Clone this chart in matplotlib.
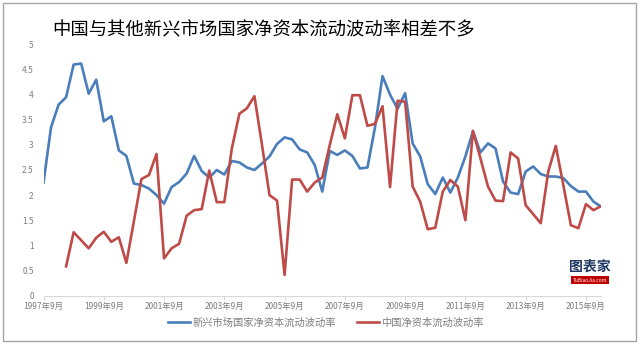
import matplotlib
matplotlib.use("Agg")
import matplotlib.pyplot as plt
from matplotlib.patches import Rectangle

plt.rcParams["font.family"] = ["Noto Sans CJK SC", "DejaVu Sans"]

# -------------------------------------------------
# data: quarterly, 1997Q3 .. 2016Q1
# -------------------------------------------------
tick_labels = ["1997年9月", "1999年9月", "2001年9月", "2003年9月", "2005年9月",
               "2007年9月", "2009年9月", "2011年9月", "2013年9月", "2015年9月"]

em_vol = [2.25, 3.35, 3.8, 3.95, 4.6, 4.62, 4.02, 4.3, 3.47, 3.57,
          2.89, 2.78, 2.23, 2.2, 2.13, 2.0, 1.83, 2.16, 2.26, 2.43,
          2.78, 2.48, 2.35, 2.5, 2.41, 2.68, 2.65, 2.55, 2.5, 2.63,
          2.77, 3.02, 3.15, 3.11, 2.91, 2.85, 2.6, 2.07, 2.88, 2.8,
          2.89, 2.78, 2.53, 2.55, 3.35, 4.37, 4.0, 3.72, 4.03, 3.03,
          2.77, 2.22, 2.02, 2.35, 2.05, 2.35, 2.77, 3.27, 2.85, 3.03,
          2.93, 2.27, 2.05, 2.02, 2.47, 2.57, 2.42, 2.37, 2.37, 2.34,
          2.18, 2.07, 2.07, 1.87, 1.77]

cn_vol = [None, None, None, 0.58, 1.26, 1.1, 0.94, 1.15, 1.27, 1.07,
          1.16, 0.65, 1.48, 2.32, 2.4, 2.82, 0.74, 0.94, 1.03, 1.59,
          1.7, 1.72, 2.49, 1.86, 1.86, 2.93, 3.62, 3.73, 3.97, 3.0,
          2.0, 1.89, 0.41, 2.31, 2.31, 2.07, 2.25, 2.35, 3.0, 3.61,
          3.13, 3.99, 3.99, 3.38, 3.42, 3.77, 2.16, 3.88, 3.86, 2.17,
          1.87, 1.32, 1.35, 2.07, 2.3, 2.17, 1.5, 3.28, 2.73, 2.17,
          1.89, 1.88, 2.85, 2.73, 1.8, 1.62, 1.44, 2.47, 2.98, 2.2,
          1.4, 1.34, 1.82, 1.7, 1.78]

blue = "#4A7EBB"
red = "#BE4B48"
grey = "#7F7F7F"

# -------------------------------------------------
# figure
# -------------------------------------------------
fig = plt.figure(figsize=(6.4, 3.46), dpi=100)
W, H = 640, 346

# outer frame
fig.patches.append(Rectangle((2.5 / W, 1 - 340.5 / H), 633 / W, 338 / H,
                             transform=fig.transFigure, fill=False,
                             edgecolor="#A6A6A6", linewidth=1.0))

ax = fig.add_axes([43.5 / W, 1 - 295.5 / H, (601 - 43.5) / W, (295.5 - 44.5) / H])

x = list(range(len(em_vol)))
ax.plot(x, em_vol, color=blue, linewidth=1.9, solid_joinstyle="round",
        label="新兴市场国家净资本流动波动率")
cn_x = [i for i, v in enumerate(cn_vol) if v is not None]
cn_y = [v for v in cn_vol if v is not None]
ax.plot(cn_x, cn_y, color=red, linewidth=1.9, solid_joinstyle="round",
        label="中国净资本流动波动率")

ax.set_xlim(0, len(em_vol) - 1)
ax.set_ylim(0, 5)
ax.set_yticks([0, 0.5, 1, 1.5, 2, 2.5, 3, 3.5, 4, 4.5, 5])
ax.set_yticklabels(["0", "0.5", "1", "1.5", "2", "2.5", "3", "3.5", "4", "4.5", "5"])
ax.set_xticks(range(0, len(em_vol), 8))
ax.set_xticklabels(tick_labels)

for s in ["top", "right", "left"]:
    ax.spines[s].set_visible(False)
ax.spines["bottom"].set_color("#D9D9D9")
ax.spines["bottom"].set_linewidth(0.8)

ax.tick_params(axis="y", length=0, pad=7, labelsize=6, labelcolor=grey)
ax.tick_params(axis="x", length=3, width=0.8, color="#D9D9D9", pad=2,
               labelsize=6, labelcolor=grey)

fig.text(52 / W, 1 - 30.5 / H, "中国与其他新兴市场国家净资本流动波动率相差不多",
         fontsize=13.2, va="center", ha="left", color="black")

fig.legend(loc="center", bbox_to_anchor=(0.509, 1 - 323 / H), ncol=2, frameon=False,
           fontsize=7.4, labelcolor=grey, handlelength=2.2, columnspacing=2.0,
           handletextpad=0.2)

# watermark logo
fig.text(590 / W, 1 - 267 / H, "图表家", fontsize=10, fontweight="bold",
         color="#1F3864", ha="center", va="center")
fig.text(590 / W, 1 - 280 / H, "TuBiaoJia.com", fontsize=3.5, color="white",
         ha="center", va="center",
         bbox=dict(boxstyle="square,pad=0.3", facecolor="#C00000", edgecolor="none"))

fig.savefig("out.png", dpi=100)
